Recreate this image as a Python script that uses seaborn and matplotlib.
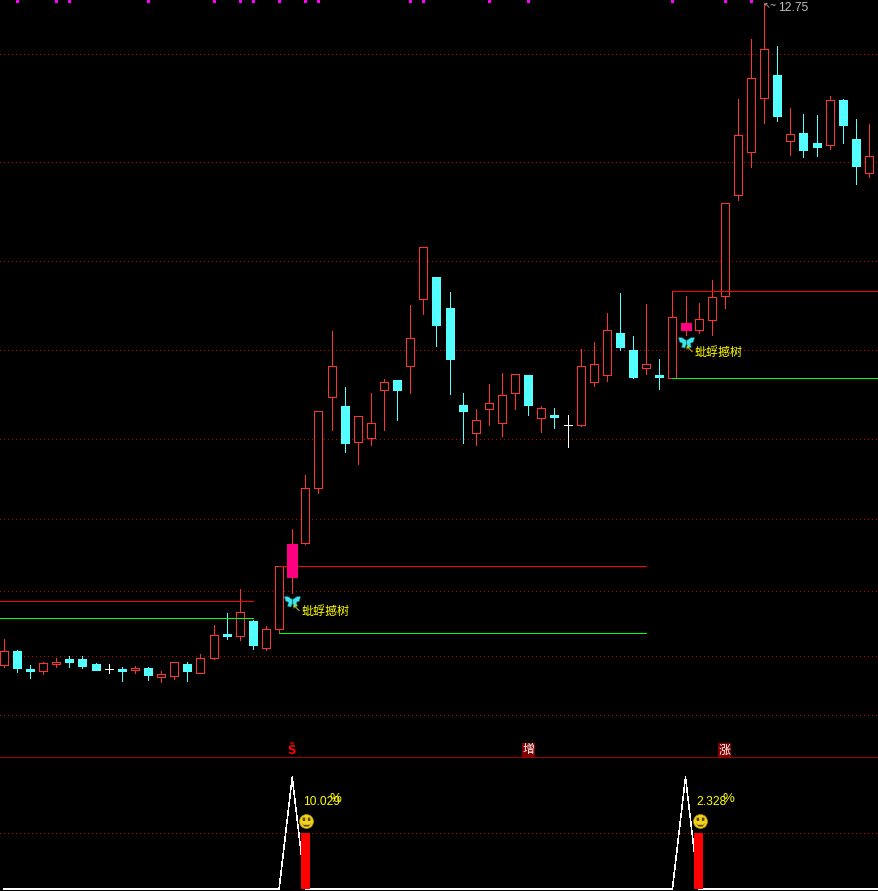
import numpy as np
import pandas as pd
import seaborn as sns
import matplotlib.pyplot as plt
from matplotlib.path import Path

# daily prices, one entry per candle
opens = [6.13, 6.27, 6.09, 6.07, 6.14, 6.19, 6.19, 6.14, 6.09, 6.09, 6.08, 6.10, 6.01, 6.02, 6.14, 6.05, 6.20,
         6.44, 6.42, 6.57, 6.30, 6.49, 7.02, 7.35, 7.90, 8.81, 8.72, 8.36, 8.40, 8.88, 8.98, 9.12, 9.79, 10.01,
         9.70, 8.73, 8.45, 8.69, 8.55, 8.85, 9.03, 8.60, 8.63, 8.53, 8.53, 8.96, 9.03, 9.45, 9.28, 9.10, 9.03,
         9.00, 9.49, 9.48, 9.58, 9.82, 10.83, 11.26, 11.80, 12.03, 11.37, 11.45, 11.35, 11.33, 11.78, 11.39,
         11.05, 11.25]
closes = [6.27, 6.10, 6.07, 6.15, 6.16, 6.16, 6.12, 6.08, 6.09, 6.07, 6.10, 6.03, 6.04, 6.16, 6.07, 6.20, 6.43,
          6.42, 6.66, 6.33, 6.49, 7.12, 7.33, 7.90, 8.67, 9.12, 8.35, 8.62, 8.55, 8.96, 8.88, 9.40, 10.31, 9.53,
          9.19, 8.67, 8.58, 8.75, 8.83, 9.04, 8.73, 8.70, 8.61, 8.53, 9.12, 9.14, 9.48, 9.31, 9.01, 9.14, 9.01,
          9.61, 9.54, 9.59, 9.81, 10.75, 11.43, 12.00, 12.29, 11.62, 11.44, 11.28, 11.31, 11.78, 11.53, 11.12,
          11.22, 11.41]
highs = [6.39, 6.28, 6.13, 6.16, 6.20, 6.22, 6.22, 6.15, 6.14, 6.11, 6.12, 6.11, 6.07, 6.16, 6.16, 6.24, 6.53,
         6.65, 6.89, 6.58, 6.52, 7.12, 7.49, 8.03, 8.67, 9.47, 8.91, 8.62, 8.85, 8.99, 8.98, 9.73, 10.31, 10.01,
         9.86, 8.85, 8.69, 8.94, 9.05, 9.04, 9.03, 8.72, 8.70, 8.63, 9.29, 9.36, 9.65, 9.85, 9.42, 9.74, 9.19,
         9.87, 9.82, 9.75, 9.98, 10.75, 11.79, 12.39, 12.75, 12.32, 11.70, 11.64, 11.63, 11.82, 11.79, 11.59,
         11.54, 11.60]
lows = [6.11, 6.06, 6.00, 6.04, 6.11, 6.11, 6.10, 6.08, 6.05, 5.97, 6.05, 5.98, 5.96, 5.99, 5.97, 6.05, 6.19,
        6.39, 6.38, 6.29, 6.28, 6.45, 6.85, 7.34, 7.85, 8.48, 8.26, 8.14, 8.33, 8.48, 8.58, 8.85, 9.64, 9.32,
        8.84, 8.35, 8.33, 8.53, 8.42, 8.69, 8.63, 8.46, 8.50, 8.31, 8.52, 8.92, 8.97, 9.28, 9.00, 9.04, 8.89,
        9.00, 9.43, 9.45, 9.43, 9.70, 10.78, 11.11, 11.55, 11.57, 11.23, 11.21, 11.22, 11.29, 11.35, 10.94,
        11.01, 11.10]

signal_days = [22, 52]
bar_days = [23, 53]
top_mark_days = [1, 4, 5, 11, 16, 18, 19, 21, 23, 24, 31, 32, 37, 40, 51, 55, 57]
grid_levels = [12.24, 11.16, 10.17, 9.28, 8.39, 7.59, 6.87, 6.22, 5.63]

level_starts = [-1, 21, 51]
level_ends = [19, 49, 68]
red_levels = [6.77, 7.12, 9.87]
green_levels = [6.60, 6.45, 9.00]

butterfly_prices = [6.77, 9.36]
gain_labels = ['10.029', '2.328']
PRICE_TOP = 12.78
PRICE_BOTTOM = 5.21

RED = '#ff3232'
CYAN = '#54ffff'
MAGENTA = '#ff0080'
PX = 0.72  # one pixel in points
DAY_PX = 13.11
X_LEFT = -0.29
X_RIGHT = 66.76

sns.set_theme(style='dark', rc={'figure.facecolor': 'black', 'axes.facecolor': 'black',
                                'savefig.facecolor': 'black', 'axes.grid': True,
                                'grid.color': '#c80000', 'grid.linewidth': PX,
                                'grid.linestyle': (0, (1, 3)), 'lines.antialiased': False})
plt.rcParams['font.family'] = ['Noto Sans CJK SC', 'DejaVu Sans']

n_days = len(opens)
df = pd.DataFrame({'day': np.arange(n_days), 'open': opens, 'close': closes, 'high': highs, 'low': lows})
df['body'] = (df['close'] - df['open']).abs()
df['bottom'] = df[['open', 'close']].min(axis=1)
df['color'] = np.where(df['close'] > df['open'], RED, np.where(df['close'] < df['open'], CYAN, 'white'))

fig = plt.figure(figsize=(8.79, 8.91), dpi=100)
ax = fig.add_axes([0, 134 / 891, 1, 757 / 891])
ax2 = fig.add_axes([0, 0, 1, 134 / 891])

# wicks
wicks = pd.concat([df[['day', 'high', 'color']].rename(columns={'high': 'price'}),
                   df[['day', 'low', 'color']].rename(columns={'low': 'price'})])
palette = {c: c for c in df['color'].unique()}
sns.lineplot(data=wicks, x='day', y='price', hue='color', units='day', estimator=None, palette=palette,
             linewidth=PX, antialiased=False, legend=False, zorder=2, ax=ax)

# bodies
sns.barplot(data=df, x='day', y='body', bottom=df['bottom'].values, native_scale=True, width=8 / DAY_PX,
            errorbar=None, color='black', zorder=3, ax=ax)
for day, patch in enumerate(ax.patches):
    color = df['color'][day]
    if day in signal_days:
        patch.set(facecolor=MAGENTA, edgecolor=MAGENTA, linewidth=3 * PX, zorder=5)
    elif color == CYAN:
        patch.set(facecolor=CYAN, edgecolor=CYAN, linewidth=PX)
    else:
        patch.set(facecolor='black', edgecolor=color, linewidth=PX)
    patch.set_antialiased(False)

# support and resistance levels
ax.hlines(red_levels, level_starts, level_ends, color='#ff0000', linewidth=PX, antialiased=False, zorder=4)
ax.hlines(green_levels, level_starts, level_ends, color='#00ff00', linewidth=PX, antialiased=False, zorder=4)

# top marks
sns.scatterplot(x=top_mark_days, y=[PRICE_TOP - 0.01] * len(top_mark_days), marker='s', s=(3 * PX) ** 2,
                color='#ff00ff', linewidth=0, zorder=6, ax=ax)

# butterfly marker
wing_l = [(-0.02, 0.25), (-0.55, 0.6), (-1, 0.6), (-0.85, 0.05), (-0.5, -0.1), (-0.6, -0.6), (-0.2, -0.7),
          (-0.02, -0.2), (-0.02, 0.25)]
wing_r = [(-x, y) for x, y in wing_l]
butterfly = Path(wing_l + wing_r, [1] + [2] * 7 + [79] + [1] + [2] * 7 + [79])
sns.scatterplot(x=signal_days, y=butterfly_prices, marker=butterfly, s=(16 * PX) ** 2, color='#3ce6e6',
                edgecolor='#0f7f8f', linewidth=0.4, zorder=7, ax=ax)

for day, price in zip(signal_days, butterfly_prices):
    ax.annotate('↖', xy=(day, price), xytext=(4, -9), textcoords='offset pixels', color='#d0d000', fontsize=8,
                family='DejaVu Sans', ha='center', va='center', zorder=8)
    ax.annotate('蚍蜉撼树', xy=(day, price), xytext=(9, -10), textcoords='offset pixels', color='#ffff00',
                fontsize=8.64, ha='left', va='center', zorder=8)

# highest price note
top_day = int(df['high'].idxmax())
ax.annotate('↖~', xy=(top_day, max(highs)), xytext=(0, -3), textcoords='offset pixels', color='#c0c0c0',
            fontsize=5.8, family='DejaVu Sans', ha='left', va='center', zorder=8)
ax.annotate(f'{max(highs):.2f}', xy=(top_day, max(highs)), xytext=(14, -5), textcoords='offset pixels',
            color='#c0c0c0', fontsize=8.64, family='Liberation Sans', ha='left', va='center', zorder=8)

# signal letters above the separator
ax.text(21.9, 5.28, 'Ŝ', color='#ff0000', fontsize=8.5, fontweight='bold', family='DejaVu Sans', ha='center',
        va='center', zorder=8)
for day, word in zip([40, 55], ['增', '涨']):
    ax.text(day, 5.28, word, color='white', fontsize=8.64, ha='center', va='center', zorder=8,
            bbox=dict(facecolor='#800000', edgecolor='none', pad=0.4))

ax.set_xlim(X_LEFT, X_RIGHT)
ax.set_ylim(PRICE_BOTTOM, PRICE_TOP)
ax.set_yticks(grid_levels)
ax.grid(True, axis='y')
ax.grid(False, axis='x')
ax.set_xticks([])
ax.set_xlabel('')
ax.set_ylabel('')
ax.tick_params(left=False, labelleft=False, bottom=False, labelbottom=False)
for spine in ax.spines.values():
    spine.set_visible(False)

# lower panel
spike = [1 if d in signal_days else 0 for d in range(n_days)]
red_bar = [0.5 if d in bar_days else 0 for d in range(n_days)]
sns.lineplot(x=df['day'], y=spike, color='white', linewidth=0.55 * PX, antialiased=False, zorder=2, ax=ax2)
sns.barplot(x=df['day'], y=red_bar, native_scale=True, width=9 / DAY_PX, color='#ff0000', saturation=1,
            errorbar=None, zorder=3, ax=ax2)
for patch in ax2.patches:
    patch.set_linewidth(0)
    patch.set_antialiased(False)

# smiley faces
mouth = [(-0.45, -0.1), (-0.2, -0.45), (0.2, -0.45), (0.45, -0.1), (0.25, -0.3), (-0.25, -0.3), (-0.45, -0.1)]
eye_l = [(-0.35, 0.35), (-0.12, 0.35), (-0.12, 0.05), (-0.35, 0.05), (-0.35, 0.35)]
eye_r = [(0.12, 0.35), (0.35, 0.35), (0.35, 0.05), (0.12, 0.05), (0.12, 0.35)]
face = Path(mouth + eye_l + eye_r, ([1] + [2] * 5 + [79]) + ([1] + [2] * 3 + [79]) * 2)
smile_x = [d + 0.08 for d in bar_days]
sns.scatterplot(x=smile_x, y=[0.61, 0.61], marker='o', s=(14 * PX) ** 2, color='#f2d21e', edgecolor='#a88a10',
                linewidth=0.5, zorder=5, ax=ax2)
sns.scatterplot(x=smile_x, y=[0.61, 0.61], marker=face, s=(10 * PX) ** 2, color='#5a4a08', linewidth=0,
                zorder=6, ax=ax2)

for day, gain in zip(bar_days, gain_labels):
    ax2.annotate(gain, xy=(day, 0.61), xytext=(-2, 19), textcoords='offset pixels', color='#ffff00',
                 fontsize=8.64, family='Liberation Sans', ha='left', va='center', zorder=7)
    # the percent sign sits on the last digit in the original
    ax2.annotate('%', xy=(day, 0.61), xytext=(30, 22), textcoords='offset pixels', color='#ffff00',
                 fontsize=9.5, family='Liberation Sans', ha='center', va='center', zorder=7)

ax2.set_xlim(X_LEFT, X_RIGHT)
ax2.set_ylim(-0.018, 1.18)
ax2.set_yticks([0.5])
ax2.grid(True, axis='y')
ax2.grid(False, axis='x')
ax2.set_xticks([])
ax2.set_xlabel('')
ax2.set_ylabel('')
ax2.tick_params(left=False, labelleft=False, bottom=False, labelbottom=False)
for name, spine in ax2.spines.items():
    spine.set_visible(name == 'top')
ax2.spines['top'].set_color('#a00000')
ax2.spines['top'].set_linewidth(PX)

fig.savefig('out.png', dpi=100)
